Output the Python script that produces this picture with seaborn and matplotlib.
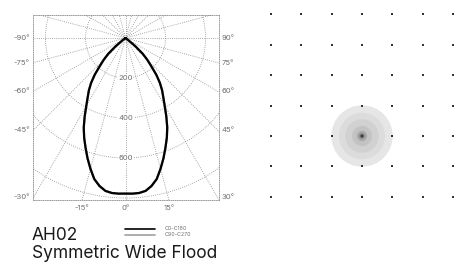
import numpy as np
import pandas as pd
import matplotlib
matplotlib.use("Agg")
import matplotlib.pyplot as plt
import seaborn as sns

# ---- data ----
# luminous intensity (cd) vs angle from nadir (deg)
half_angles = [0, 2.5, 5, 7.5, 10, 12.5, 15, 17.5, 20, 22.5, 25, 27.5, 30,
               32.5, 35, 37.5, 40, 42.5, 45, 47.5, 50, 52.5, 55]
half_c0 = [778, 779, 778, 771, 751, 722, 677, 631, 584, 540, 494, 442, 392,
           352, 319, 282, 239, 190, 154, 117, 65, 18, 0]
half_c90 = [778, 779, 778, 771, 751, 722, 677, 631, 584, 540, 494, 442, 392,
            352, 319, 282, 239, 190, 154, 117, 65, 18, 0]
radial_ticks = [200, 400, 600]
left_labels = [-90, -75, -60, -45, -30]
right_labels = [90, 75, 60, 45, 30]
bottom_labels = [-15, 0, 15]
grid_cols = [-3, -2, -1, 0, 1, 2, 3]
grid_rows = [4, 3, 2, 1, 0, -1, -2]
iso_radii = [1.01, 0.76, 0.55, 0.33, 0.17, 0.09, 0.04]
iso_colors = ["#e6e6e7", "#dcdcdd", "#d1d1d2", "#c3c3c4", "#a9a9aa", "#7d7d7d", "#111111"]
title = "AH02"
subtitle = "Symmetric Wide Flood"
legend_labels = ["C0-C180", "C90-C270"]

# symmetric distribution: mirror each half-plane to the other side
angles = [-a for a in half_angles[::-1]] + half_angles[1:]
c0_c180 = half_c0[::-1] + half_c0[1:]
c90_c270 = half_c90[::-1] + half_c90[1:]

sns.set_theme(style="white")
plt.rcParams["font.family"] = ["Inter", "DejaVu Sans"]

fig = plt.figure(figsize=(4.54, 2.62), dpi=100)
W, H = 454, 262

def px_axes(x0, y0, x1, y1):
    return fig.add_axes([x0 / W, 1 - y1 / H, (x1 - x0) / W, (y1 - y0) / H])

# ---- polar diagram ----
ax = px_axes(33, 15, 219, 200)
XL, YB, YT = 460, -810, 115
ax.set_xlim(-XL, XL + 5)
ax.set_ylim(YB, YT)
ax.set_aspect("equal")
grid_kw = dict(color="#8a8a8a", lw=0.6, ls=(0, (1, 1.6)), zorder=1)
t = np.linspace(0, 2 * np.pi, 400)
for r in [200, 400, 600, 800, 1000]:
    ax.plot(r * np.sin(t), r * np.cos(t), **grid_kw)
for a in range(0, 360, 15):
    ar = np.radians(a)
    ax.plot([0, 1200 * np.sin(ar)], [0, -1200 * np.cos(ar)], **grid_kw)

for vals, col, lw in [(c90_c270, "#a0a0a0", 1.6), (c0_c180, "#000000", 1.6)]:
    th = np.radians(angles)
    df = pd.DataFrame({"x": np.array(vals) * np.sin(th),
                       "y": -np.array(vals) * np.cos(th)})
    sns.lineplot(data=df, x="x", y="y", sort=False, estimator=None,
                 color=col, lw=lw, ax=ax, zorder=3)

for r in radial_ticks:
    ax.text(0, -r, str(r), ha="center", va="center", fontsize=5.5, color="#707070",
            zorder=2, bbox=dict(facecolor="white", edgecolor="none", pad=0.5))

for s in ax.spines.values():
    s.set_linestyle((0, (1, 1.6)))
    s.set_color("#8a8a8a")
    s.set_linewidth(0.6)
ax.set_xticks([])
ax.set_yticks([])
ax.set_xlabel("")
ax.set_ylabel("")

lab_kw = dict(fontsize=5.5, color="#707070", va="center")
for a in left_labels:
    ar = np.radians(abs(a))
    y = 0 if abs(a) == 90 else -XL / np.tan(ar)
    ax.text(-XL - 18, y, f"{a}°", ha="right", clip_on=False, **lab_kw)
for a in right_labels:
    ar = np.radians(abs(a))
    y = 0 if abs(a) == 90 else -XL / np.tan(ar)
    ax.text(XL + 20, y, f"{a}°", ha="left", clip_on=False, **lab_kw)
for a in bottom_labels:
    x = -YB * np.tan(np.radians(a))
    ax.text(x, YB - 38, f"{a}°", ha="center", fontsize=5.5, color="#707070",
            va="center", clip_on=False)

# ---- iso-illuminance plan ----
ax2 = fig.add_axes([240.4 / W, 1 - 227.2 / H, 243.2 / W, 243.2 / H])
ax2.set_xlim(-4, 4)
ax2.set_ylim(-3, 5)
ax2.set_aspect("equal")
ax2.axis("off")
for r, c in zip(iso_radii, iso_colors):
    ax2.add_patch(plt.Circle((0, 0), r, color=c, lw=0, zorder=1))
gx, gy = np.meshgrid(grid_cols, grid_rows)
sns.scatterplot(x=gx.ravel(), y=gy.ravel(), marker="s", s=2, color="#333333",
                edgecolor="none", ax=ax2, zorder=3, legend=False)

# ---- text ----
fig.text(32 / W, 1 - 239.5 / H, title, fontsize=12.5, color="#1a1a1a", va="baseline")
fig.text(32 / W, 1 - 258 / H, subtitle, fontsize=12.5, color="#1a1a1a", va="baseline")
fig.add_artist(plt.Line2D([125 / W, 155 / W], [1 - 229 / H] * 2, color="#000000", lw=1.2))
fig.add_artist(plt.Line2D([125 / W, 155 / W], [1 - 234.5 / H] * 2, color="#a0a0a0", lw=1.2))
fig.text(165 / W, 1 - 229 / H, legend_labels[0], fontsize=3.8, color="#707070", va="center")
fig.text(165 / W, 1 - 235 / H, legend_labels[1], fontsize=3.8, color="#707070", va="center")

fig.savefig("out.png", dpi=100)
